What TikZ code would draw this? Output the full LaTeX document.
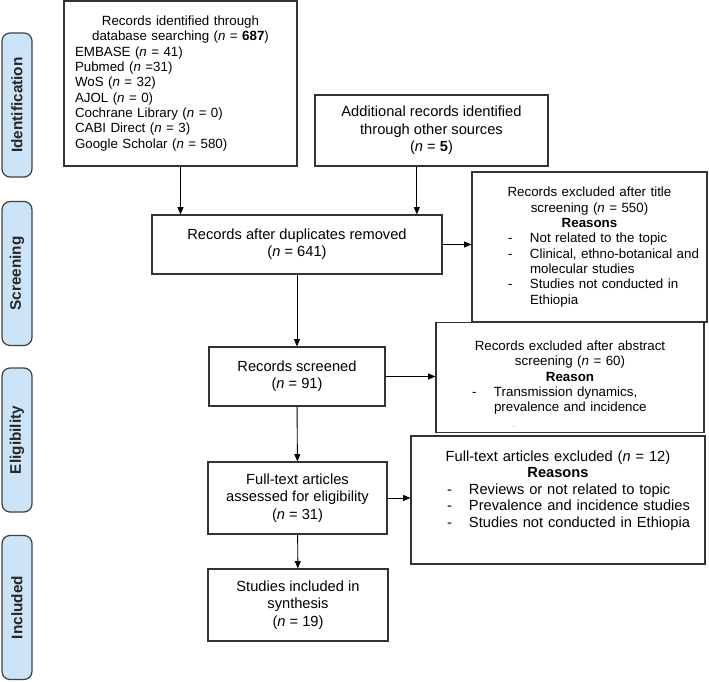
\documentclass[tikz,border=0pt]{standalone}
\usepackage{fontspec}
\setmainfont{Liberation Sans}
\usepackage{xcolor}
\usetikzlibrary{arrows.meta}

\setlength{\parindent}{0pt}
\definecolor{stageblue}{HTML}{CCE4F8}

\newcommand{\nn}{\textit{n}}
\newcommand{\reason}[1]{\hspace*{23pt}\makebox[16.5pt][l]{-}#1}
\newcommand{\reasonmore}[1]{\hspace*{39.5pt}#1}

\tikzset{
  stage/.style={draw=black!75, line width=0.9pt, fill=stageblue, rounded corners=6pt,
    minimum width=108pt, minimum height=22.5pt, rotate=90, inner sep=0pt,
    font=\fontsize{11.5}{13}\selectfont\bfseries, text=black!85},
  box/.style={draw=black!80, line width=0.9pt, inner sep=4pt, align=center,
    font=\fontsize{11}{13}\selectfont},
  exclbox/.style={box, align=left, font=\fontsize{10}{11.5}\selectfont},
  flow/.style={line width=0.7pt, -{Triangle[length=5.5pt,width=4.5pt]}},
}

\begin{document}
\begin{tikzpicture}[x=0.75pt, y=-0.75pt]
  \useasboundingbox (0,0) rectangle (709,681);

    % Stages
    \node[stage] (ident) at (17,105) {Identification};
    \node[stage] (screen) at (17,273.5) {Screening};
    \node[stage] (elig) at (17,440) {Eligibility};
    \node[stage] (incl) at (17,607.5) {Included};

    % Identification
    \node[exclbox, inner xsep=8.25pt, text width=158.25pt, minimum height=123.75pt] (dbsearch) at (180.5,83.5)
      {{\centering Records identified through\\ database searching (\nn{} = \textbf{687})\par}
       EMBASE (\nn{} = 41)\\
       Pubmed (\nn{} =31)\\
       WoS (\nn{} = 32)\\
       AJOL (\nn{} = 0)\\
       Cochrane Library (\nn{} = 0)\\
       CABI Direct (\nn{} = 3)\\
       Google Scholar (\nn{} = 580)};
    \node[box, minimum width=174.75pt, minimum height=53.25pt] (other) at (431.5,130.5)
      {Additional records identified\\ through other sources\\ (\nn{} = \textbf{5})};

    % Screening
    \node[box, minimum width=217.5pt, minimum height=44.25pt] (dedup) at (297,244.5)
      {Records after duplicates removed\\ (\nn{} = 641)};
    \node[exclbox, text width=168.25pt, minimum height=112.5pt] (extitle) at (589.5,247)
      {{\centering Records excluded after title\\ screening (\nn{} = 550)\\ \textbf{Reasons}\par}
       \reason{Not related to the topic}\\
       \reason{Clinical, ethno-botanical and}\\
       \reasonmore{molecular studies}\\
       \reason{Studies not conducted in}\\
       \reasonmore{Ethiopia}};
    \node[box, minimum width=132pt, minimum height=44.25pt] (screened) at (297,376.5)
      {Records screened\\ (\nn{} = 91)};
    \node[exclbox, text width=193pt, minimum height=77.25pt] (exabstract) at (570,377.5)
      {{\centering \rule{0pt}{17pt}Records excluded after abstract\\ screening (\nn{} = 60)\\ \textbf{Reason}\par}
       \reason{Transmission dynamics,}\\
       \reasonmore{prevalence and incidence}\\
       \reasonmore{\hspace*{14pt}\textcolor{black!50}{\tiny ..}}};

    % Eligibility
    \node[box, minimum width=134.25pt, minimum height=54pt] (fulltext) at (297.5,498)
      {Full-text articles\\ assessed for eligibility\\ (\nn{} = 31)};
    \node[exclbox, text width=212.5pt, minimum height=96pt, font=\fontsize{11}{12.4}\selectfont] (exfull) at (558,500)
      {{\centering Full-text articles excluded (\nn{} = 12)\\ \textbf{Reasons}\par}
       \reason{Reviews or not related to topic}\\
       \reason{Prevalence and incidence studies}\\
       \reason{Studies not conducted in Ethiopia}\par
       \rule{0pt}{13pt}};

    % Included
    \node[box, minimum width=135pt, minimum height=54pt] (studies) at (298,605)
      {Studies included in\\ synthesis\\ (\nn{} = 19)};

  % Arrows
  \draw[flow] (dbsearch.south) -- (dbsearch.south |- dedup.north);
  \draw[flow] ([xshift=-11pt]other.south) -- ([xshift=-11pt]other.south |- dedup.north);
  \draw[flow] (dedup.east) -- (dedup.east -| extitle.west);
  \draw[flow] (dedup) -- (screened);
  \draw[flow] (screened.east) -- (screened.east -| exabstract.west);
  \draw[flow] (screened) -- (fulltext);
  \draw[flow] (fulltext.east) -- (fulltext.east -| exfull.west);
  \draw[flow] (fulltext) -- (studies);

\end{tikzpicture}
\end{document}
